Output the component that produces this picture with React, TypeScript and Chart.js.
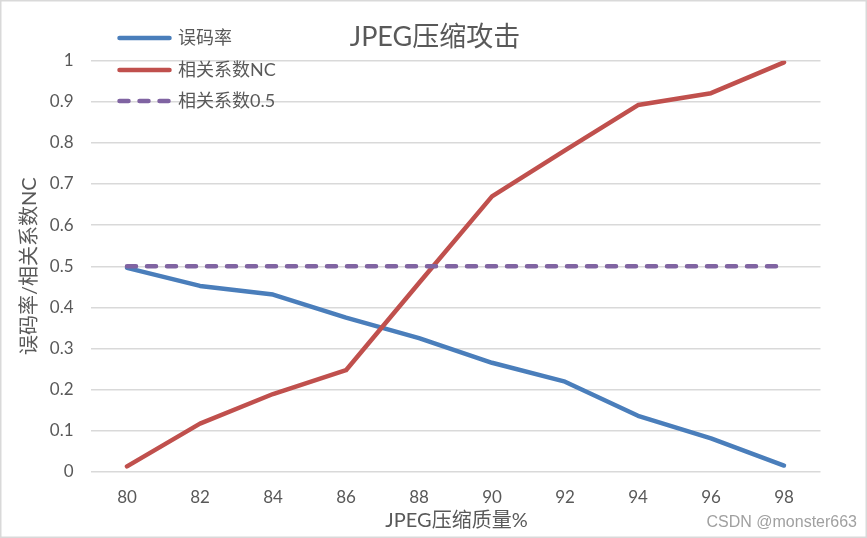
import React, { useEffect, useRef } from "react";
import { Chart, registerables } from "chart.js";

Chart.register(...registerables);

const categories = ["80", "82", "84", "86", "88", "90", "92", "94", "96", "98"];
const errorRate = [0.496, 0.452, 0.431, 0.375, 0.325, 0.265, 0.219, 0.136, 0.081, 0.015];
const ncValues = [0.013, 0.117, 0.189, 0.247, 0.459, 0.67, 0.782, 0.892, 0.921, 0.996];
const threshold = [0.5, 0.5, 0.5, 0.5, 0.5, 0.5, 0.5, 0.5, 0.5, 0.5];
const seriesNames = ["误码率", "相关系数NC", "相关系数0.5"];
const seriesColors = ["#4A7EBB", "#C0504D", "#8064A2"];
const yMin = 0;
const yMax = 1;
const yStep = 0.1;
const titleText = "JPEG压缩攻击";
const xTitle = "JPEG压缩质量%";
const yTitle = "误码率/相关系数NC";
const watermark = "CSDN @monster663";

const FONT = "Lato, 'Noto Sans CJK SC', sans-serif";
const TEXT = "#595959";
const W = 867;
const H = 538;

const decorPlugin = {
  id: "decor",
  beforeDraw(chart: any) {
    const ctx = chart.ctx;
    ctx.save();
    ctx.fillStyle = "#ffffff";
    ctx.fillRect(0, 0, W, H);
    ctx.restore();
  },
  afterDraw(chart: any) {
    const ctx = chart.ctx;
    const ca = chart.chartArea;
    ctx.save();
    // border
    ctx.strokeStyle = "#d9d9d9";
    ctx.lineWidth = 1.5;
    ctx.strokeRect(0.75, 0.75, W - 1.5, H - 1.5);

    ctx.fillStyle = TEXT;
    ctx.textBaseline = "middle";
    // title
    ctx.textAlign = "center";
    ctx.font = `27px ${FONT}`;
    ctx.fillText(titleText, 435, 37);
    // x title
    ctx.font = `20px ${FONT}`;
    ctx.fillText(xTitle, (ca.left + ca.right) / 2 + 1, 521);
    // y title
    ctx.save();
    ctx.translate(30, (ca.top + ca.bottom) / 2);
    ctx.rotate(-Math.PI / 2);
    ctx.fillText(yTitle, 0, 0);
    ctx.restore();

    // legend
    const ys = [38, 70, 101];
    for (let i = 0; i < 3; i++) {
      ctx.save();
      ctx.strokeStyle = seriesColors[i];
      ctx.lineWidth = 4.5;
      ctx.lineCap = "round";
      if (i === 2) ctx.setLineDash([9, 11]);
      ctx.beginPath();
      ctx.moveTo(119.5, ys[i]);
      ctx.lineTo(169.5, ys[i]);
      ctx.stroke();
      ctx.restore();
      ctx.textAlign = "left";
      ctx.font = `18px ${FONT}`;
      ctx.fillStyle = TEXT;
      ctx.fillText(seriesNames[i], 178, ys[i]);
    }

    // watermark
    ctx.textAlign = "right";
    ctx.font = "16px 'Liberation Sans', Arial, sans-serif";
    ctx.fillStyle = "#a0a0a0";
    ctx.fillText(watermark, 857, 523);
    ctx.restore();
  },
};

export default function App() {
  const ref = useRef<HTMLCanvasElement>(null);
  useEffect(() => {
    document.body.style.margin = "0";
    const canvas = ref.current!;
    const common = {
      fill: false,
      pointRadius: 0,
      pointHoverRadius: 0,
      borderWidth: 4.5,
      borderCapStyle: "round",
      borderJoinStyle: "round",
      tension: 0,
    };
    const chart = new Chart(canvas, {
      type: "line",
      data: {
        labels: categories,
        datasets: [
          { ...common, label: seriesNames[0], data: errorRate, borderColor: seriesColors[0], backgroundColor: seriesColors[0], order: 2 },
          { ...common, label: seriesNames[1], data: ncValues, borderColor: seriesColors[1], backgroundColor: seriesColors[1], order: 1 },
          { ...common, label: seriesNames[2], data: threshold, borderColor: seriesColors[2], backgroundColor: seriesColors[2], borderDash: [9, 11], order: 0 },
        ],
      } as any,
      options: {
        responsive: false,
        animation: false,
        layout: { padding: { top: 60.7, right: 46.5, left: 0, bottom: 0 } },
        plugins: {
          legend: { display: false },
          title: { display: false },
          tooltip: { enabled: false },
        },
        scales: {
          x: {
            type: "category",
            offset: true,
            grid: { display: false, drawTicks: false },
            border: { display: false },
            ticks: { color: TEXT, font: { family: FONT, size: 17 }, padding: 15.5, maxRotation: 0 },
            afterFit: (s: any) => {
              s.height = H - 471.7;
            },
          },
          y: {
            min: yMin,
            max: yMax,
            grid: { color: "#d9d9d9", lineWidth: 1.4, drawTicks: false },
            border: { display: false },
            ticks: {
              stepSize: yStep,
              color: TEXT,
              font: { family: FONT, size: 17 },
              padding: 17,
              callback: (v: any) => String(Number(Number(v).toFixed(1))),
            },
            afterFit: (s: any) => {
              s.width = 90.5;
            },
          },
        },
      } as any,
      plugins: [decorPlugin],
    });
    return () => chart.destroy();
  }, []);
  return <canvas ref={ref} width={W} height={H} style={{ display: "block" }} />;
}
